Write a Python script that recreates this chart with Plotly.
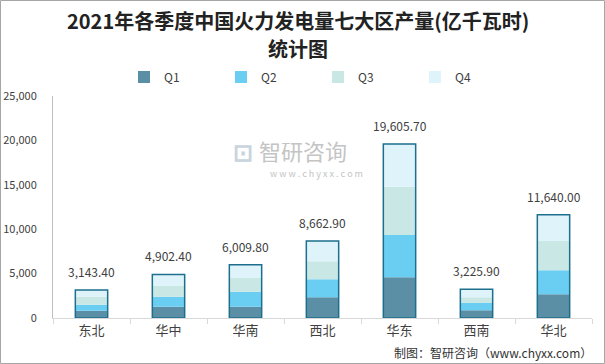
import plotly.graph_objects as go

regions = ["东北", "华中", "华南", "西北", "华东", "西南", "华北"]
q1 = [820, 1270, 1270, 2330, 4600, 870, 2680]
q2 = [680, 1130, 1690, 2030, 4750, 830, 2710]
q3 = [900, 1240, 1540, 2020, 5430, 640, 3290]
q4 = [743.4, 1262.4, 1509.8, 2282.9, 4825.7, 885.9, 2960.0]
totals = [3143.4, 4902.4, 6009.8, 8662.9, 19605.7, 3225.9, 11640.0]
series_names = ["Q1", "Q2", "Q3", "Q4"]
y_ticks = [0, 5000, 10000, 15000, 20000, 25000]
title_lines = ["2021年各季度中国火力发电量七大区产量(亿千瓦时)", "统计图"]

colors = ["#5B8FA6", "#6ACEF3", "#C9E7E5", "#DFF3FA"]
outline = "#1D6F8D"
W, H = 605, 364
L, R, T, B = 53, 13, 96, 46
pw, ph = W - L - R, H - T - B
FONT = "Noto Sans CJK SC"


def px_x(x):
    return (x - L) / pw


def px_y(y):
    return (H - B - y) / ph


fig = go.Figure()
base = [0.0] * len(regions)
for name, vals, col in zip(series_names, [q1, q2, q3, q4], colors):
    fig.add_trace(go.Bar(
        x=regions, y=vals, base=list(base), name=name,
        marker=dict(color=col, line=dict(width=0)),
        width=0.42, hoverinfo="skip",
    ))
    base = [b + v for b, v in zip(base, vals)]

fig.add_trace(go.Bar(
    x=regions, y=totals, base=[0] * len(regions), showlegend=False,
    marker=dict(color="rgba(0,0,0,0)", line=dict(color=outline, width=1.5)),
    width=0.42, hoverinfo="skip",
))

for r, t in zip(regions, totals):
    fig.add_annotation(x=r, y=t, text=f"{t:,.2f}", showarrow=False,
                       yanchor="bottom", yshift=8,
                       font=dict(family=FONT, size=12, color="#404040"))

# title
for i, (line, yc) in enumerate(zip(title_lines, [21, 49])):
    fig.add_annotation(xref="paper", yref="paper", x=px_x(298), y=px_y(yc),
                       text=line, showarrow=False, xanchor="center", yanchor="middle",
                       font=dict(family=FONT, size=20, color="#222222", weight="bold"))

# watermark
fig.add_annotation(xref="paper", yref="paper", x=px_x(303), y=px_y(150),
                   text="智研咨询", showarrow=False, xanchor="center", yanchor="middle",
                   font=dict(family=FONT, size=22, color="#C4C4C4"))
fig.add_annotation(xref="paper", yref="paper", x=px_x(316), y=px_y(173),
                   text="w w w . c h y x x . c o m", showarrow=False, xanchor="center", yanchor="middle",
                   font=dict(family=FONT, size=9, color="#C4C4C4"))
fig.add_annotation(xref="paper", yref="paper", x=px_x(243), y=px_y(150),
                   text="<b>⊡</b>", showarrow=False, xanchor="center", yanchor="middle",
                   font=dict(family=FONT, size=24, color="#C8D4DE"))

# footer
fig.add_annotation(xref="paper", yref="paper", x=px_x(594), y=px_y(352),
                   text="制图：智研咨询（www.chyxx.com）", showarrow=False,
                   xanchor="right", yanchor="middle",
                   font=dict(family=FONT, size=12, color="#333333"))

# outer border
fig.add_shape(type="rect", xref="paper", yref="paper",
              x0=px_x(0.5), x1=px_x(W - 0.5), y0=px_y(H - 0.5), y1=px_y(0.5),
              line=dict(color="#A6A6A6", width=1), fillcolor="rgba(0,0,0,0)", layer="below")

fig.update_layout(
    width=W, height=H,
    margin=dict(l=L, r=R, t=T, b=B, autoexpand=False),
    barmode="overlay",
    paper_bgcolor="white", plot_bgcolor="white",
    legend=dict(orientation="h", x=px_x(124), y=px_y(77),
                xanchor="left", yanchor="middle", entrywidth=52, entrywidthmode="pixels",
                itemwidth=30, traceorder="normal",
                font=dict(family=FONT, size=12, color="#404040"), bgcolor="rgba(0,0,0,0)"),
    xaxis=dict(showline=True, linecolor="#D9D9D9", linewidth=1, automargin=False,
               ticks="outside", tickson="boundaries", ticklen=5, tickcolor="#D9D9D9",
               showgrid=False, tickfont=dict(family=FONT, size=13, color="#404040")),
    yaxis=dict(range=[0, 25000], tickvals=y_ticks, tickformat=",d", automargin=False,
               showline=True, linecolor="#BFBFBF", linewidth=1, showgrid=False,
               zeroline=False, ticks="", ticklabelstandoff=13,
               tickfont=dict(family=FONT, size=11, color="#404040")),
)

fig.write_html("out.html", config={"displayModeBar": False},
               post_script="document.body.style.margin='0';document.body.style.overflow='hidden';")
